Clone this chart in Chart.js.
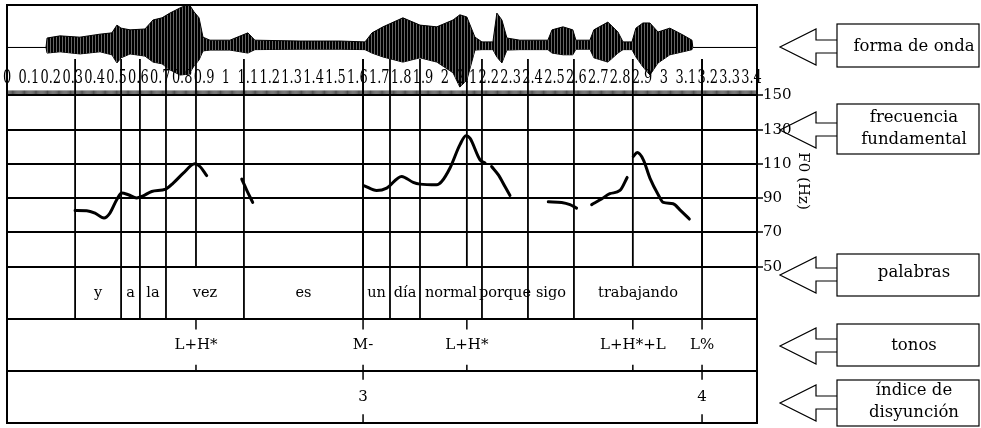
<!DOCTYPE html>
<html>
<head>
<meta charset="utf-8">
<script src="https://cdn.jsdelivr.net/npm/chart.js@4.4.1/dist/chart.umd.min.js"></script>
<style>
  html, body { margin: 0; padding: 0; background: #fff; }
  canvas { display: block; }
</style>
</head>
<body>
<canvas id="chart" width="981" height="428"></canvas>
<script>
// time axis (seconds)
const timeTickLabels = ["0", "0.1", "0.2", "0.3", "0.4", "0.5", "0.6", "0.7", "0.8", "0.9",
  "1", "1.1", "1.2", "1.3", "1.4", "1.5", "1.6", "1.7", "1.8", "1.9",
  "2", "2.1", "2.2", "2.3", "2.4", "2.5", "2.6", "2.7", "2.8", "2.9",
  "3", "3.1", "3.2", "3.3", "3.4"];
const f0Ticks = [50, 70, 90, 110, 130, 150];

// waveform envelope (relative amplitude)
const waveTimes = [0, 0.178, 0.183, 0.242, 0.333, 0.425, 0.479, 0.502, 0.521, 0.562, 0.630, 0.667,
  0.708, 0.744, 0.790, 0.831, 0.854, 0.877, 0.895, 0.927, 1.018, 1.100, 1.132, 1.338, 1.521, 1.635,
  1.667, 1.717, 1.808, 1.886, 1.963, 2.037, 2.068, 2.100, 2.137, 2.169, 2.219, 2.237, 2.260, 2.283,
  2.342, 2.470, 2.489, 2.539, 2.584, 2.598, 2.662, 2.680, 2.744, 2.790, 2.813, 2.854, 2.872, 2.904,
  2.936, 2.973, 3.027, 3.087, 3.128, 3.132, 3.425];
const waveUpper = [0, 0, 0.22, 0.27, 0.24, 0.31, 0.34, 0.52, 0.45, 0.41, 0.43, 0.64,
  0.69, 0.80, 0.92, 1.01, 0.83, 0.69, 0.24, 0.17, 0.17, 0.34, 0.17, 0.15, 0.15, 0.13,
  0.34, 0.48, 0.69, 0.52, 0.48, 0.64, 0.76, 0.71, 0.24, 0.13, 0.13, 0.80, 0.64, 0.22,
  0.17, 0.17, 0.41, 0.48, 0.41, 0.17, 0.17, 0.41, 0.59, 0.36, 0.13, 0.13, 0.45, 0.57,
  0.57, 0.36, 0.45, 0.29, 0.17, 0, 0];
const waveLower = [0, 0, -0.13, -0.10, -0.15, -0.10, -0.17, -0.36, -0.24, -0.15, -0.20, -0.34,
  -0.38, -0.52, -0.64, -0.62, -0.43, -0.29, -0.08, -0.06, -0.06, -0.13, -0.05, -0.04, -0.04, -0.05,
  -0.13, -0.22, -0.34, -0.24, -0.34, -0.59, -0.92, -0.76, -0.06, -0.05, -0.05, -0.22, -0.36, -0.06,
  -0.05, -0.05, -0.13, -0.17, -0.17, -0.04, -0.04, -0.24, -0.34, -0.13, -0.05, -0.05, -0.22, -0.45,
  -0.64, -0.36, -0.17, -0.10, -0.05, 0, 0];

// F0 contour (Hz), one list per voiced stretch
const f0Times = [
  [0.311, 0.364, 0.402, 0.443, 0.470, 0.501, 0.524, 0.554, 0.592, 0.622, 0.661, 0.725, 0.759, 0.805, 0.858, 0.881, 0.912],
  [1.072, 1.094, 1.122],
  [1.632, 1.688, 1.734, 1.802, 1.855, 1.886, 1.962, 1.985, 2.023, 2.068, 2.096, 2.114, 2.160, 2.183],
  [2.213, 2.244, 2.274, 2.297],
  [2.472, 2.533, 2.571, 2.601],
  [2.670, 2.715, 2.753, 2.799, 2.832],
  [2.860, 2.878, 2.906, 2.936, 2.974, 2.997, 3.042, 3.073, 3.116]
];
const f0Values = [
  [82.8, 82.7, 81.3, 78.4, 81.3, 89.1, 93.0, 92.0, 90.1, 91.4, 93.9, 95.3, 98.8, 104.6, 110.1, 108.5, 103.2],
  [101.1, 94.9, 87.5],
  [97.2, 94.5, 95.9, 102.7, 99.2, 98.2, 97.8, 99.7, 107.6, 121.1, 126.4, 125.0, 112.4, 110.5],
  [108.5, 103.6, 96.8, 91.6],
  [87.9, 87.5, 86.2, 84.2],
  [86.2, 89.5, 92.6, 94.5, 102.1],
  [114.3, 116.6, 112.4, 101.7, 92.0, 87.5, 86.7, 83.2, 77.8]
];

// annotation tiers
const wordBounds = [0.311, 0.521, 0.607, 0.726, 1.082, 1.626, 1.749, 1.886, 2.169, 2.379, 2.589, 3.174];
const wordLabels = ["y", "a", "la", "vez", "es", "un", "día", "normal", "porque", "sigo", "trabajando"];
const toneTimes = [0.863, 1.626, 2.100, 2.858, 3.174];
const toneLabels = ["L+H*", "M-", "L+H*", "L+H*+L", "L%"];
const breakTimes = [1.626, 3.174];
const breakLabels = ["3", "4"];

const SERIF = '"DejaVu Serif", "Liberation Serif", serif';
Chart.defaults.font.family = SERIF;
Chart.defaults.color = '#000';

const callouts = [
  { lines: ["forma de onda"], cy: 47, top: 24, bottom: 67, ty: 47 },
  { lines: ["frecuencia", "fundamental"], cy: 130, top: 104, bottom: 154, ty: 129 },
  { lines: ["palabras"], cy: 275, top: 254, bottom: 296, ty: 273 },
  { lines: ["tonos"], cy: 346, top: 324, bottom: 366, ty: 346 },
  { lines: ["índice de", "disyunción"], cy: 403, top: 380, bottom: 426, ty: 402 }
];

// striped fill so the envelope reads like a sampled waveform
function stripePattern() {
  const c = document.createElement('canvas');
  c.width = 3; c.height = 4;
  const g = c.getContext('2d');
  g.fillStyle = '#000';
  g.fillRect(0, 0, 2, 4);
  g.fillStyle = '#666';
  g.fillRect(2, 0, 1, 4);
  return g.createPattern(c, 'repeat');
}

function seg(ctx, x1, y1, x2, y2) {
  ctx.beginPath();
  ctx.moveTo(x1, y1);
  ctx.lineTo(x2, y2);
  ctx.stroke();
}

const tierPlugin = {
  id: 'tiers',
  beforeDatasetsDraw(chart) {
    const { ctx, chartArea: a, scales } = chart;
    const x = scales.x, yT = scales.yTier, yF = scales.yF0;
    ctx.save();
    ctx.strokeStyle = '#000';

    // boundaries running through waveform and F0 panel
    ctx.lineWidth = 1.8;
    [...wordBounds, ...toneTimes].forEach(t => {
      const px = x.getPixelForValue(t);
      seg(ctx, px, yT.getPixelForValue(7), px, yT.getPixelForValue(3));
    });
    // word intervals
    wordBounds.forEach(t => {
      const px = x.getPixelForValue(t);
      seg(ctx, px, yT.getPixelForValue(3), px, yT.getPixelForValue(2));
    });
    // tier separators
    ctx.lineWidth = 2;
    [1, 2, 3].forEach(v => {
      const py = yT.getPixelForValue(v);
      seg(ctx, a.left, py, a.right, py);
    });
    // point-tier ticks
    ctx.lineWidth = 1.5;
    toneTimes.forEach(t => {
      const px = x.getPixelForValue(t);
      seg(ctx, px, yT.getPixelForValue(2), px, yT.getPixelForValue(1.8));
      seg(ctx, px, yT.getPixelForValue(1.12), px, yT.getPixelForValue(1));
    });
    breakTimes.forEach(t => {
      const px = x.getPixelForValue(t);
      seg(ctx, px, yT.getPixelForValue(1), px, yT.getPixelForValue(0.83));
      seg(ctx, px, yT.getPixelForValue(0.17), px, yT.getPixelForValue(0));
    });

    // dense time marks above the F0 panel
    const yTop = yF.getPixelForValue(150);
    ctx.lineWidth = 0.7;
    for (let t = 0; t <= x.max; t += 0.005) {
      const px = x.getPixelForValue(t);
      seg(ctx, px, yTop - 5, px, yTop);
    }
    ctx.restore();
  },
  afterDatasetsDraw(chart) {
    const { ctx, chartArea: a, scales } = chart;
    const x = scales.x, yT = scales.yTier, yF = scales.yF0;
    ctx.save();
    ctx.fillStyle = '#000';
    ctx.strokeStyle = '#000';

    // time labels
    ctx.font = '18px ' + SERIF;
    ctx.textAlign = 'center';
    ctx.textBaseline = 'alphabetic';
    const yb = yT.getPixelForValue(6.54);
    timeTickLabels.forEach(lbl => {
      const px = x.getPixelForValue(parseFloat(lbl));
      ctx.save();
      ctx.translate(px, yb);
      ctx.scale(0.72, 1);
      ctx.fillText(lbl, 0, 0);
      ctx.restore();
    });

    // tier labels
    ctx.textBaseline = 'middle';
    ctx.font = '14.5px ' + SERIF;
    wordLabels.forEach((w, i) => {
      const cx = (x.getPixelForValue(wordBounds[i]) + x.getPixelForValue(wordBounds[i + 1])) / 2;
      ctx.fillText(w, cx, yT.getPixelForValue(2.5));
    });
    ctx.font = '15px ' + SERIF;
    toneLabels.forEach((lbl, i) => {
      ctx.fillText(lbl, x.getPixelForValue(toneTimes[i]), yT.getPixelForValue(1.5));
    });
    breakLabels.forEach((lbl, i) => {
      ctx.fillText(lbl, x.getPixelForValue(breakTimes[i]), yT.getPixelForValue(0.5));
    });

    // frame
    ctx.lineWidth = 2;
    ctx.strokeRect(a.left, a.top, a.right - a.left, a.bottom - a.top);

    // axis title
    ctx.save();
    ctx.font = '15px ' + SERIF;
    ctx.translate(a.right + 46, yF.getPixelForValue(100));
    ctx.rotate(Math.PI / 2);
    ctx.fillText('F0 (Hz)', 0, 0);
    ctx.restore();

    // callout arrows and boxes
    ctx.lineWidth = 1.2;
    ctx.font = '16.5px ' + SERIF;
    callouts.forEach(c => {
      const cy = c.cy;
      ctx.beginPath();
      ctx.moveTo(837, cy - 7);
      ctx.lineTo(816, cy - 7);
      ctx.lineTo(816, cy - 18);
      ctx.lineTo(780, cy);
      ctx.lineTo(816, cy + 18);
      ctx.lineTo(816, cy + 6);
      ctx.lineTo(837, cy + 6);
      ctx.stroke();
      ctx.strokeRect(837, c.top, 979 - 837, c.bottom - c.top);
      const n = c.lines.length;
      c.lines.forEach((line, i) => {
        ctx.fillText(line, 914, c.ty + (i - (n - 1) / 2) * 22);
      });
    });
    ctx.restore();
  }
};

const toPoints = (ts, vs) => ts.map((t, i) => ({ x: t, y: vs[i] }));

const datasets = [
  {
    data: toPoints(waveTimes, waveUpper), yAxisID: 'yWave',
    borderColor: '#000', borderWidth: 1, backgroundColor: stripePattern(),
    fill: '+1', pointRadius: 0, tension: 0
  },
  {
    data: toPoints(waveTimes, waveLower), yAxisID: 'yWave',
    borderColor: '#000', borderWidth: 1, fill: false, pointRadius: 0, tension: 0
  },
  ...f0Times.map((ts, i) => ({
    data: toPoints(ts, f0Values[i]), yAxisID: 'yF0',
    borderColor: '#000', borderWidth: 3, fill: false, pointRadius: 0,
    cubicInterpolationMode: 'monotone', borderCapStyle: 'round'
  }))
];

new Chart(document.getElementById('chart'), {
  type: 'line',
  data: { datasets },
  options: {
    responsive: false,
    animation: false,
    devicePixelRatio: 1,
    layout: { padding: { left: 7, top: 5, right: 160, bottom: 5 } },
    plugins: { legend: { display: false }, tooltip: { enabled: false } },
    scales: {
      x: { type: 'linear', min: 0, max: 3.425, display: false },
      yWave: { type: 'linear', min: -8.733, max: 0.988, display: false },
      yTier: { type: 'linear', min: 0, max: 8.038, display: false },
      yF0: {
        type: 'linear', position: 'right', min: -41.3, max: 202.8,
        afterBuildTicks: s => { s.ticks = f0Ticks.map(v => ({ value: v })); },
        afterFit: s => { s.width = 64; s.paddingTop = 0; s.paddingBottom = 0; },
        border: { display: true, color: '#000', width: 2 },
        grid: { color: '#000', lineWidth: 2, drawTicks: true, tickLength: 6, tickColor: '#000', tickWidth: 1.5 },
        ticks: { autoSkip: false, padding: 0, color: '#000', font: { size: 15, family: SERIF } }
      }
    }
  },
  plugins: [tierPlugin]
});
</script>
</body>
</html>
